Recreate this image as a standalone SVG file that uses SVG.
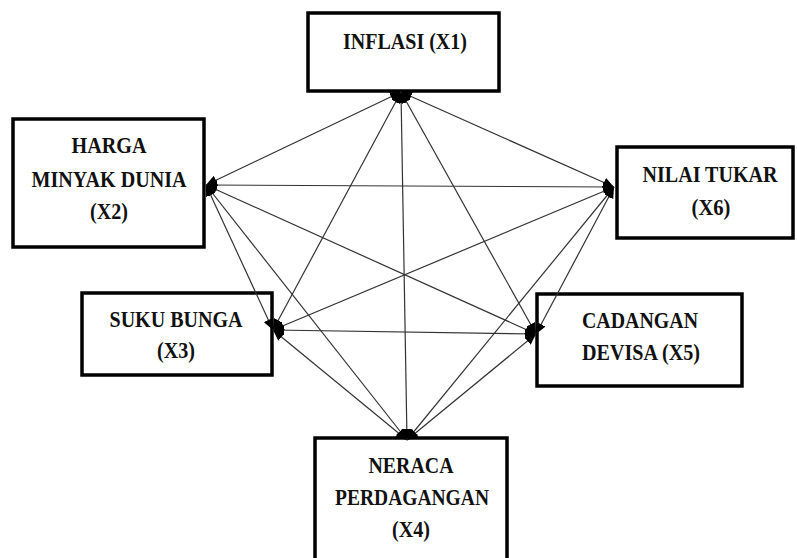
<svg xmlns="http://www.w3.org/2000/svg" width="797" height="558" viewBox="0 0 797 558">
<style>
.box{fill:#fff;stroke:#000;stroke-width:3.5}
.t{font-family:"Liberation Serif","Times New Roman",serif;font-weight:bold;font-size:23px;fill:#111;text-anchor:middle}
.c line{stroke:#333;stroke-width:1.2;marker-start:url(#ah);marker-end:url(#ah)}
</style>
<defs>
<marker id="ah" markerUnits="userSpaceOnUse" markerWidth="12" markerHeight="10" refX="11" refY="5" orient="auto-start-reverse">
<path d="M0,0 L11,5 L0,10 z" fill="#000"/>
</marker>
</defs>
<rect width="797" height="558" fill="#fff"/>
<g id="x1"><rect class="box" x="308" y="13" width="191" height="78"/><text class="t" x="405" y="49" textLength="124" lengthAdjust="spacingAndGlyphs">INFLASI (X1)</text></g>
<g id="x2"><rect class="box" x="13" y="119" width="191" height="128"/><text class="t" x="109" y="153" textLength="75" lengthAdjust="spacingAndGlyphs">HARGA</text><text class="t" x="109" y="187" textLength="155" lengthAdjust="spacingAndGlyphs">MINYAK DUNIA</text><text class="t" x="109" y="219" textLength="38" lengthAdjust="spacingAndGlyphs">(X2)</text></g>
<g id="x6"><rect class="box" x="617" y="147" width="176" height="91"/><text class="t" x="710" y="182" textLength="135" lengthAdjust="spacingAndGlyphs">NILAI TUKAR</text><text class="t" x="711" y="215" textLength="39" lengthAdjust="spacingAndGlyphs">(X6)</text></g>
<g id="x3"><rect class="box" x="82" y="293" width="190" height="82"/><text class="t" x="176" y="327" textLength="133" lengthAdjust="spacingAndGlyphs">SUKU BUNGA</text><text class="t" x="176" y="358" textLength="38" lengthAdjust="spacingAndGlyphs">(X3)</text></g>
<g id="x5"><rect class="box" x="537" y="294" width="205" height="92"/><text class="t" x="640" y="328" textLength="116" lengthAdjust="spacingAndGlyphs">CADANGAN</text><text class="t" x="641" y="360" textLength="118" lengthAdjust="spacingAndGlyphs">DEVISA (X5)</text></g>
<g id="x4"><rect class="box" x="315" y="438" width="192" height="130"/><text class="t" x="411" y="473" textLength="85" lengthAdjust="spacingAndGlyphs">NERACA</text><text class="t" x="412" y="505" textLength="154" lengthAdjust="spacingAndGlyphs">PERDAGANGAN</text><text class="t" x="411" y="537" textLength="38" lengthAdjust="spacingAndGlyphs">(X4)</text></g>
<g class="c" id="connectors">
<line x1="401" y1="92" x2="206" y2="185"/>
<line x1="401" y1="92" x2="614" y2="187"/>
<line x1="401" y1="92" x2="273" y2="330"/>
<line x1="401" y1="92" x2="536" y2="334"/>
<line x1="401" y1="92" x2="407" y2="440"/>
<line x1="206" y1="185" x2="614" y2="187"/>
<line x1="206" y1="185" x2="273" y2="330"/>
<line x1="206" y1="185" x2="536" y2="334"/>
<line x1="206" y1="185" x2="407" y2="440"/>
<line x1="614" y1="187" x2="273" y2="330"/>
<line x1="614" y1="187" x2="536" y2="334"/>
<line x1="614" y1="187" x2="407" y2="440"/>
<line x1="273" y1="330" x2="536" y2="334"/>
<line x1="273" y1="330" x2="407" y2="440"/>
<line x1="536" y1="334" x2="407" y2="440"/>
</g>
</svg>
